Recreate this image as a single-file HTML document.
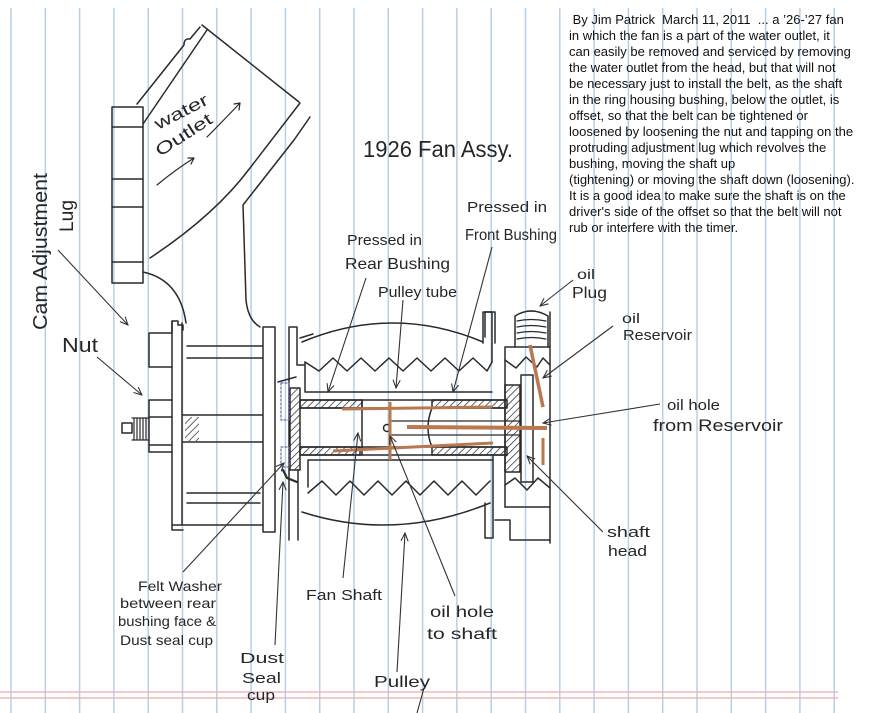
<!DOCTYPE html>
<html><head><meta charset="utf-8"><style>
html,body{margin:0;padding:0;background:#fff;}
#c{position:relative;width:877px;height:713px;overflow:hidden;background:#fff;}
svg{position:absolute;left:0;top:0;}
#t{position:absolute;left:569px;top:12px;font-family:"Liberation Sans",Arial,sans-serif;font-size:13px;line-height:16px;color:#111;white-space:pre;}
.h{font-family:"Liberation Sans",Arial,sans-serif;fill:#262626;}
</style></head><body><div id="c">
<svg width="877" height="713" viewBox="0 0 877 713" xmlns="http://www.w3.org/2000/svg">
<defs>
<marker id="ah" viewBox="0 0 10 10" refX="9" refY="5" markerWidth="9" markerHeight="9" orient="auto" markerUnits="userSpaceOnUse"><path d="M0,1 L9,5 L0,9" fill="none" stroke="#333" stroke-width="1.2"/></marker>
<pattern id="hatch" width="5" height="5" patternUnits="userSpaceOnUse" patternTransform="rotate(45)"><line x1="0" y1="0" x2="0" y2="5" stroke="#222" stroke-width="1.4"/></pattern>
</defs>
<!-- ruled paper -->
<g stroke="#b3d0ea" stroke-width="1.5">
<line x1="11" y1="8" x2="11" y2="713"/><line x1="45.3" y1="8" x2="45.3" y2="713"/><line x1="79.6" y1="8" x2="79.6" y2="713"/><line x1="113.9" y1="8" x2="113.9" y2="713"/><line x1="148.2" y1="8" x2="148.2" y2="713"/><line x1="182.5" y1="8" x2="182.5" y2="713"/><line x1="216.8" y1="8" x2="216.8" y2="713"/><line x1="251.1" y1="8" x2="251.1" y2="713"/><line x1="285.4" y1="8" x2="285.4" y2="713"/><line x1="319.7" y1="8" x2="319.7" y2="713"/><line x1="354" y1="8" x2="354" y2="713"/><line x1="388.3" y1="8" x2="388.3" y2="713"/><line x1="422.6" y1="8" x2="422.6" y2="713"/><line x1="456.9" y1="8" x2="456.9" y2="713"/><line x1="491.2" y1="8" x2="491.2" y2="713"/><line x1="525.5" y1="8" x2="525.5" y2="713"/><line x1="559.8" y1="8" x2="559.8" y2="713"/><line x1="594.1" y1="8" x2="594.1" y2="713"/><line x1="628.4" y1="8" x2="628.4" y2="713"/><line x1="662.7" y1="8" x2="662.7" y2="713"/><line x1="697" y1="8" x2="697" y2="713"/><line x1="731.3" y1="8" x2="731.3" y2="713"/><line x1="765.6" y1="8" x2="765.6" y2="713"/><line x1="799.9" y1="8" x2="799.9" y2="713"/><line x1="834.2" y1="8" x2="834.2" y2="713"/>
</g>
<g stroke="#f3b6b6" stroke-width="1.6"><line x1="0" y1="692" x2="838" y2="692"/><line x1="0" y1="698" x2="838" y2="698"/></g>

<!-- drawing -->
<g fill="none" stroke="#2a2a2a" stroke-width="1.5" stroke-linejoin="round" stroke-linecap="round">
<!-- water outlet -->
<path d="M112,107 L143,107 L143,283 L112,283 Z"/>
<path d="M112,127 L143,127 M112,179 L143,179 M112,207 L143,207 M112,262 L143,262"/>
<path d="M137,104 L184,45 Q184,38 190,39 L200,27"/>
<path d="M143,124 L207,30"/>
<path d="M202,25 L299,102"/>
<path d="M300,103 L250,168 Q215,215 150,258"/>
<path d="M310,117 L301,130 L294,140 L243,205 L246,300 Q248,320 260,327"/>
<path d="M143,272 Q180,280 186,323"/>
<path d="M157,185 Q175,170 194,158 M188,158 L194,158 L191,164" stroke-width="1.2"/>
<path d="M207,137 Q222,122 240,103 M234,104 L240,103 L239,110" stroke-width="1.2"/>
<!-- head -->
<path d="M172,321 L172,333 L149,333 L149,367 L172,367"/>
<path d="M172,321 L172,530 L183,530 M182,323 L182,525 M173,525 L263,525 M172,321 L178,321 L178,325 L183,325 L183,330"/>
<path d="M149,400 L149,452 M149,400 L172,400 M149,417 L172,417 M149,445 L172,445 M149,452 L172,452"/>
<rect x="122" y="423" width="10" height="10"/>
<path d="M132,418 L149,418 M132,440 L149,440 M134,418 L134,440 M137,418 L137,440 M140,418 L140,440 M143,418 L143,440 M146,418 L146,440" stroke-width="1.2"/>
<path d="M187,346 L262,346 M187,358 L262,358 M183,415 L262,415 M183,442 L262,442 M187,493 L260,493 M187,503 L260,503"/>
<rect x="185" y="417" width="14" height="24" fill="url(#hatch)" stroke="none"/>
<path d="M263,327 L263,532 L275,532 L275,327 Z"/>
<!-- dust seal / felt -->
<path d="M289,327 L289,540 M297,327 L297,365 L304,365 M298,470 L298,540 M289,327 L297,327"/>
<path d="M300,338 L313,334"/>
<rect x="290" y="388" width="10" height="82" fill="url(#hatch)"/>
<rect x="281" y="383" width="8" height="37" fill="none" stroke="#6b6ba8" stroke-width="1.2" stroke-dasharray="2 2"/>
<rect x="281" y="447" width="8" height="20" fill="none" stroke="#6b6ba8" stroke-width="1.2" stroke-dasharray="2 2"/>
<path d="M278,382 L296,377"/>
<path d="M283,470 L287,478 L297,482" stroke-width="2.2"/>
<!-- pulley -->
<path d="M302,342 Q393,304 483,342"/>
<path d="M483,343 L483,312 L492,312 L492,362"/>
<path d="M305,362 L305,392 L492,392"/>
<polyline points="305,362 319,371 333,358 347,371 361,358 375,371 389,358 403,371 417,358 431,371 445,358 459,371 473,358 487,371 492,362"/>
<path d="M300,400 L507,400 M300,408 L505,408 M300,447 L505,447 M300,455 L507,455"/>
<rect x="300" y="400" width="62" height="8" fill="url(#hatch)"/>
<rect x="432" y="400" width="75" height="8" fill="url(#hatch)"/>
<rect x="300" y="447" width="60" height="8" fill="url(#hatch)"/>
<rect x="432" y="447" width="75" height="8" fill="url(#hatch)"/>
<path d="M362,400 L362,455 M432,408 Q424,428 432,447"/>
<path d="M392,421 L520,421 M392,435 L520,435" stroke-width="1.2"/>
<circle cx="387" cy="428" r="3.5"/>
<path d="M308,487 L308,460 L492,460"/>
<polyline points="308,493 322,481 336,495 350,481 364,495 378,481 392,495 406,481 420,495 434,481 448,495 462,481 476,495 490,481"/>
<path d="M302,512 Q395,542 490,503"/>
<path d="M485,503 L485,538 L493,538 L493,455 M485,337 L485,312 L495,312 L495,343"/>
<path d="M495,520 L510,520 L510,540 L550,540 M505,507 L550,507"/>
<!-- right block -->
<path d="M550,312 L550,543 M505,347 L505,507 M505,347 L550,347"/>
<polyline points="505,360 516,368 526,357 537,367 543,358 550,365"/>
<polyline points="505,485 515,478 527,490 538,478 550,488"/>
<rect x="521" y="375" width="12" height="107"/>
<rect x="505" y="385" width="15" height="87" fill="url(#hatch)"/>
<path d="M515,347 L515,316 Q531,306 548,316 L548,347"/>
<path d="M527,311 L535,311" stroke-width="1.2"/>
<path d="M517,321 Q531,318 546,321 M517,327 Q531,324 546,327 M517,333 Q531,330 546,333 M517,339 Q531,336 546,339" stroke-width="1.2"/>
</g>

<!-- orange oil lines -->
<g stroke="#b9784f" stroke-linecap="butt" fill="none">
<path d="M342,409 L492,407" stroke-width="3"/>
<path d="M390,402 L390,460" stroke-width="3"/>
<path d="M407,427 L547,428" stroke-width="4"/>
<path d="M333,451 L493,443" stroke-width="3"/>
<path d="M530,345 L543,407" stroke-width="3.5"/>
<path d="M543,438 L543,465" stroke-width="3"/>
</g>

<!-- leader lines -->
<g stroke="#333" stroke-width="1.1" fill="none" marker-end="url(#ah)">
<path d="M58,250 L128,325"/>
<path d="M97,357 L142,395"/>
<path d="M366,278 L328,392"/>
<path d="M403,300 L396,388"/>
<path d="M492,247 L453,392"/>
<path d="M573,280 L540,306"/>
<path d="M613,326 L543,378"/>
<path d="M660,404 L543,423"/>
<path d="M603,532 L527,456"/>
<path d="M343,578 L358,433"/>
<path d="M455,596 L390,436"/>
<path d="M397,672 L405,533"/>
<path d="M183,572 L284,463"/>
<path d="M275,645 L283,482"/>
</g>
<path d="M424,688 L417,713" stroke="#333" stroke-width="1.1"/>

<!-- handwritten labels -->
<g class="h">
<text x="363" y="157" font-size="23" textLength="150" lengthAdjust="spacingAndGlyphs">1926 Fan Assy.</text>
<text x="347" y="245" font-size="15" textLength="75" lengthAdjust="spacingAndGlyphs">Pressed in</text>
<text x="345" y="269" font-size="16" textLength="105" lengthAdjust="spacingAndGlyphs">Rear Bushing</text>
<text x="467" y="212" font-size="15" textLength="80" lengthAdjust="spacingAndGlyphs">Pressed in</text>
<text x="465" y="240" font-size="16" textLength="92" lengthAdjust="spacingAndGlyphs">Front Bushing</text>
<text x="378" y="297" font-size="15" textLength="79" lengthAdjust="spacingAndGlyphs">Pulley tube</text>
<text x="577" y="279" font-size="14" textLength="18" lengthAdjust="spacingAndGlyphs">oil</text>
<text x="572" y="298" font-size="16" textLength="35" lengthAdjust="spacingAndGlyphs">Plug</text>
<text x="622" y="323" font-size="14" textLength="18" lengthAdjust="spacingAndGlyphs">oil</text>
<text x="623" y="340" font-size="15" textLength="69" lengthAdjust="spacingAndGlyphs">Reservoir</text>
<text x="667" y="410" font-size="15" textLength="53" lengthAdjust="spacingAndGlyphs">oil hole</text>
<text x="653" y="431" font-size="17" textLength="130" lengthAdjust="spacingAndGlyphs">from Reservoir</text>
<text x="607" y="537" font-size="15" textLength="43" lengthAdjust="spacingAndGlyphs">shaft</text>
<text x="608" y="556" font-size="15" textLength="39" lengthAdjust="spacingAndGlyphs">head</text>
<text x="306" y="600" font-size="15" textLength="76" lengthAdjust="spacingAndGlyphs">Fan Shaft</text>
<text x="430" y="617" font-size="16" textLength="64" lengthAdjust="spacingAndGlyphs">oil hole</text>
<text x="427" y="639" font-size="16" textLength="70" lengthAdjust="spacingAndGlyphs">to shaft</text>
<text x="374" y="687" font-size="16" textLength="56" lengthAdjust="spacingAndGlyphs">Pulley</text>
<text x="138" y="591" font-size="14" textLength="84" lengthAdjust="spacingAndGlyphs">Felt Washer</text>
<text x="120" y="608" font-size="14" textLength="96" lengthAdjust="spacingAndGlyphs">between rear</text>
<text x="118" y="626" font-size="14" textLength="98" lengthAdjust="spacingAndGlyphs">bushing face &amp;</text>
<text x="120" y="645" font-size="14" textLength="93" lengthAdjust="spacingAndGlyphs">Dust seal cup</text>
<text x="240" y="663" font-size="15" textLength="44" lengthAdjust="spacingAndGlyphs">Dust</text>
<text x="242" y="683" font-size="15" textLength="39" lengthAdjust="spacingAndGlyphs">Seal</text>
<text x="247" y="700" font-size="15" textLength="28" lengthAdjust="spacingAndGlyphs">cup</text>
<text x="62" y="352" font-size="20" textLength="36" lengthAdjust="spacingAndGlyphs">Nut</text>
<text transform="translate(47,330) rotate(-90)" font-size="20" textLength="157" lengthAdjust="spacingAndGlyphs">Cam Adjustment</text>
<text transform="translate(73,232) rotate(-90)" font-size="19" textLength="32" lengthAdjust="spacingAndGlyphs">Lug</text>
<text transform="translate(158,130) rotate(-27)" font-size="17" textLength="58" lengthAdjust="spacingAndGlyphs">water</text>
<text transform="translate(160,157) rotate(-33)" font-size="17" textLength="64" lengthAdjust="spacingAndGlyphs">Outlet</text>
</g>
</svg>
<div id="t"> By Jim Patrick  March 11, 2011  ... a ’26-’27 fan
in which the fan is a part of the water outlet, it
can easily be removed and serviced by removing
the water outlet from the head, but that will not
be necessary just to install the belt, as the shaft
in the ring housing bushing, below the outlet, is
offset, so that the belt can be tightened or
loosened by loosening the nut and tapping on the
protruding adjustment lug which revolves the
bushing, moving the shaft up
(tightening) or moving the shaft down (loosening).
It is a good idea to make sure the shaft is on the
driver's side of the offset so that the belt will not
rub or interfere with the timer.</div>
</div></body></html>
